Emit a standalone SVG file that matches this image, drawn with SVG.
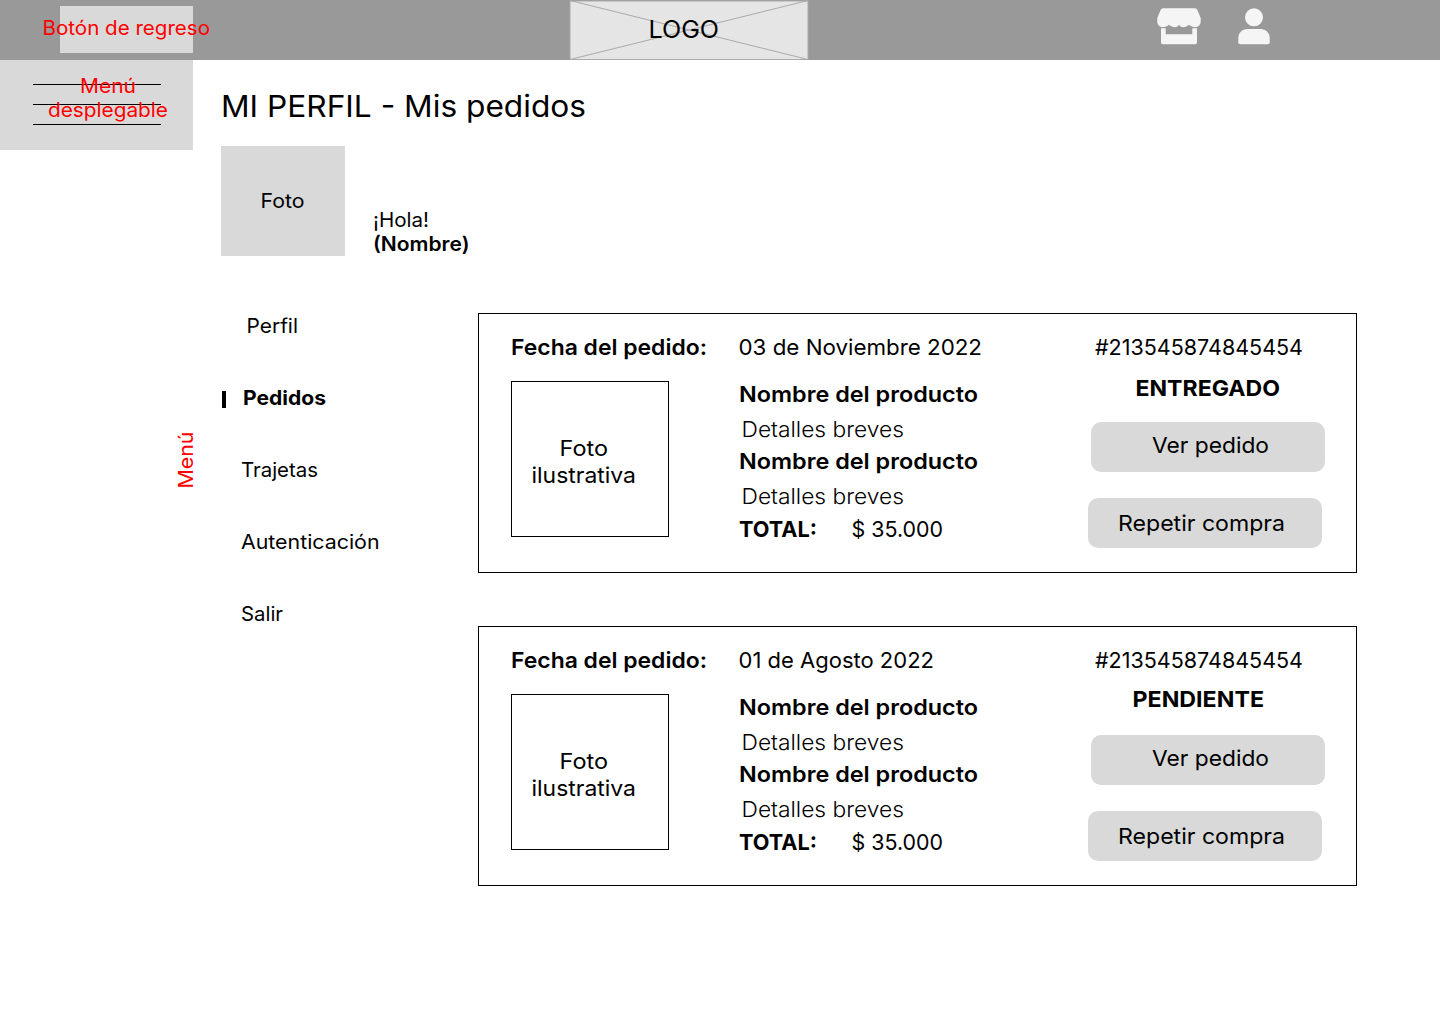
<svg xmlns="http://www.w3.org/2000/svg" width="1440" height="1024" viewBox="0 0 1440 1024">
<style>
text{font-family:"Inter","Noto Sans","Liberation Sans",sans-serif;fill:#000;font-size:20px}
.red{fill:#f00}
.b{font-weight:700}
.m{font-size:22px}
.l{font-size:22px;font-weight:300}
.sb{font-weight:600;font-size:22px}
.box{fill:#fff;stroke:#000;stroke-width:1}
.btn{fill:#d9d9d9}
.g{fill:#d9d9d9}
.ic{fill:#f5f5f5}
.ln{stroke:#000;stroke-width:1}
</style>
<rect width="1440" height="1024" fill="#fff"/>
<g id="header">
<rect width="1440" height="60" fill="#999"/>
</g>
<g id="back-button">
<rect class="g" x="60" y="6" width="133" height="47"/>
<text class="red" x="42.500" y="35" textLength="167.500" lengthAdjust="spacingAndGlyphs">Botón de regreso</text>
</g>
<g id="logo">
<rect x="570" y="1" width="238" height="58.500" fill="#e5e5e5" stroke="#aaa"/>
<path d="M570 .5L808 59.500M808 .5L570 59.500" stroke="#aaa" fill="none"/>
<text x="648.500" y="38" style="font-size:24px" textLength="70.500" lengthAdjust="spacingAndGlyphs">LOGO</text>
</g>
<g id="store-icon">
<path class="ic" d="M1163 8.300H1195Q1196.500 8.300 1197.300 9.800L1200.700 18V21.500C1200.700 25 1198 27.200 1195.500 27.200C1193 27.200 1190.500 26.500 1189 24.800C1187.500 26.500 1185 27.200 1183 27.200C1181 27.200 1180 26.500 1179 24.800C1178 26.500 1177 27.200 1175 27.200C1173 27.200 1170.500 26.500 1169 24.800C1167.500 26.500 1165 27.200 1162.500 27.200C1160 27.200 1157.300 25 1157.300 21.500V18L1160.700 9.800Q1161.500 8.300 1163 8.300Z"/>
<path class="ic" d="M1161 28.300H1165.700V34.300H1192.300V28.300H1197V42.300Q1197 44.300 1195 44.300H1163Q1161 44.300 1161 42.300Z"/>
</g>
<g id="user-icon">
<circle class="ic" cx="1254" cy="17.300" r="9"/>
<path class="ic" d="M1247.500 29H1260.500C1266 29 1269.700 33 1269.700 38V42.300Q1269.700 44.300 1267.700 44.300H1240.300Q1238.300 44.300 1238.300 42.300V38C1238.300 33 1242 29 1247.500 29Z"/>
</g>
<g id="dropdown-menu">
<rect class="g" x="0" y="60" width="193" height="90"/>
<path class="ln" d="M33 84.500H161M33 104.500H161M33 124.500H161"/>
<text class="red" x="80" y="93" textLength="56" lengthAdjust="spacingAndGlyphs">Menú</text>
<text class="red" x="48" y="117" textLength="120" lengthAdjust="spacingAndGlyphs">desplegable</text>
</g>
<g id="title">
<text x="221" y="117" style="font-size:30px" textLength="365" lengthAdjust="spacingAndGlyphs">MI PERFIL - Mis pedidos</text>
</g>
<g id="profile-photo">
<rect class="g" x="221" y="146" width="124" height="110"/>
<text x="260.500" y="208" textLength="44" lengthAdjust="spacingAndGlyphs">Foto</text>
</g>
<g id="greeting">
<text x="373" y="227" textLength="56" lengthAdjust="spacingAndGlyphs">¡Hola!</text>
<text x="373" y="251" style="font-weight:600" textLength="96.500" lengthAdjust="spacingAndGlyphs">(Nombre)</text>
</g>
<g id="menu">
<text class="red" transform="translate(193 488.500) rotate(-90)" textLength="57" lengthAdjust="spacingAndGlyphs">Menú</text>
<text x="246.500" y="333" textLength="51.500" lengthAdjust="spacingAndGlyphs">Perfil</text>
<rect x="222" y="391" width="4" height="17"/>
<text class="b" x="243" y="405" textLength="83" lengthAdjust="spacingAndGlyphs">Pedidos</text>
<text x="241" y="477" textLength="77" lengthAdjust="spacingAndGlyphs">Trajetas</text>
<text x="241" y="549" textLength="138.500" lengthAdjust="spacingAndGlyphs">Autenticación</text>
<text x="241" y="621" textLength="42" lengthAdjust="spacingAndGlyphs">Salir</text>
</g>
<g id="order-1">
<rect class="box" x="478.500" y="313.500" width="878" height="259"/>
<text class="sb" x="511" y="355" textLength="196" lengthAdjust="spacingAndGlyphs">Fecha del pedido:</text>
<text class="m" x="738.500" y="355" textLength="243.500" lengthAdjust="spacingAndGlyphs">03 de Noviembre 2022</text>
<text class="m" x="1095" y="355" textLength="208" lengthAdjust="spacingAndGlyphs">#213545874845454</text>
<rect class="box" x="511.500" y="381.500" width="157" height="155"/>
<text class="m" x="559.500" y="456" textLength="48.500" lengthAdjust="spacingAndGlyphs">Foto</text>
<text class="m" x="531.500" y="483" textLength="104.500" lengthAdjust="spacingAndGlyphs">ilustrativa</text>
<text class="sb" x="739" y="402" textLength="239" lengthAdjust="spacingAndGlyphs">Nombre del producto</text>
<text class="l" x="741.500" y="437" textLength="162.500" lengthAdjust="spacingAndGlyphs">Detalles breves</text>
<text class="sb" x="739" y="469" textLength="239" lengthAdjust="spacingAndGlyphs">Nombre del producto</text>
<text class="l" x="741.500" y="504" textLength="162.500" lengthAdjust="spacingAndGlyphs">Detalles breves</text>
<text class="sb" x="739" y="537" style="font-weight:700" textLength="78" lengthAdjust="spacingAndGlyphs">TOTAL:</text>
<text class="m" x="851.500" y="537" textLength="91.500" lengthAdjust="spacingAndGlyphs">$ 35.000</text>
<text class="sb" x="1135.500" y="396" style="font-weight:700" textLength="144.500" lengthAdjust="spacingAndGlyphs">ENTREGADO</text>
<rect class="btn" x="1091" y="422" width="234" height="50" rx="10"/>
<text class="m" x="1152" y="452.500" textLength="117" lengthAdjust="spacingAndGlyphs">Ver pedido</text>
<rect class="btn" x="1088" y="498" width="234" height="50" rx="10"/>
<text class="m" x="1118" y="531" textLength="167" lengthAdjust="spacingAndGlyphs">Repetir compra</text>
</g>
<g id="order-2">
<rect class="box" x="478.500" y="626.500" width="878" height="259"/>
<text class="sb" x="511" y="668" textLength="196" lengthAdjust="spacingAndGlyphs">Fecha del pedido:</text>
<text class="m" x="738.500" y="668" textLength="195.500" lengthAdjust="spacingAndGlyphs">01 de Agosto 2022</text>
<text class="m" x="1095" y="668" textLength="208" lengthAdjust="spacingAndGlyphs">#213545874845454</text>
<rect class="box" x="511.500" y="694.500" width="157" height="155"/>
<text class="m" x="559.500" y="769" textLength="48.500" lengthAdjust="spacingAndGlyphs">Foto</text>
<text class="m" x="531.500" y="796" textLength="104.500" lengthAdjust="spacingAndGlyphs">ilustrativa</text>
<text class="sb" x="739" y="715" textLength="239" lengthAdjust="spacingAndGlyphs">Nombre del producto</text>
<text class="l" x="741.500" y="750" textLength="162.500" lengthAdjust="spacingAndGlyphs">Detalles breves</text>
<text class="sb" x="739" y="782" textLength="239" lengthAdjust="spacingAndGlyphs">Nombre del producto</text>
<text class="l" x="741.500" y="817" textLength="162.500" lengthAdjust="spacingAndGlyphs">Detalles breves</text>
<text class="sb" x="739" y="850" style="font-weight:700" textLength="78" lengthAdjust="spacingAndGlyphs">TOTAL:</text>
<text class="m" x="851.500" y="850" textLength="91.500" lengthAdjust="spacingAndGlyphs">$ 35.000</text>
<text class="sb" x="1132.500" y="707" style="font-weight:700" textLength="131.500" lengthAdjust="spacingAndGlyphs">PENDIENTE</text>
<rect class="btn" x="1091" y="735" width="234" height="50" rx="10"/>
<text class="m" x="1152" y="765.500" textLength="117" lengthAdjust="spacingAndGlyphs">Ver pedido</text>
<rect class="btn" x="1088" y="811" width="234" height="50" rx="10"/>
<text class="m" x="1118" y="844" textLength="167" lengthAdjust="spacingAndGlyphs">Repetir compra</text>
</g>
<g id="connectors"></g>
</svg>
